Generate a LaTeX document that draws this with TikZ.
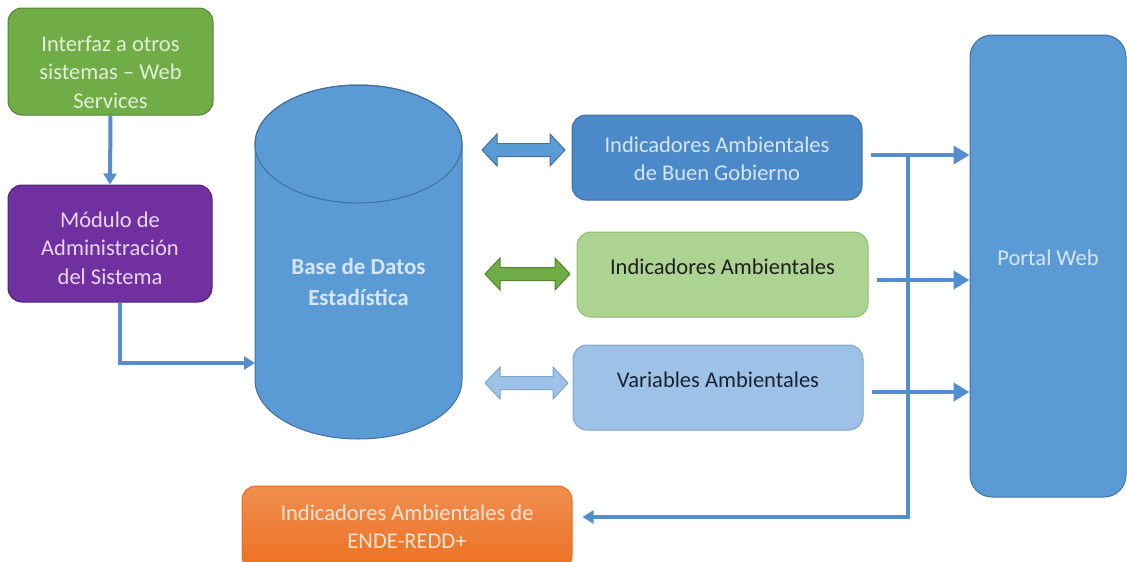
\documentclass[tikz,border=0pt]{standalone}
\usepackage{fontspec}
\setmainfont{Carlito}
\usetikzlibrary{arrows.meta}

\definecolor{bluefill}{RGB}{91,155,213}
\definecolor{blueline}{RGB}{65,113,156}
\definecolor{bgfill}{RGB}{76,137,201}
\definecolor{greenfill}{RGB}{112,173,71}
\definecolor{greenline}{RGB}{84,130,53}
\definecolor{purplefill}{RGB}{112,48,160}
\definecolor{purpleline}{RGB}{80,35,115}
\definecolor{lgfill}{RGB}{172,211,146}
\definecolor{lgline}{RGB}{140,190,110}
\definecolor{lbfill}{RGB}{158,194,231}
\definecolor{lbline}{RGB}{125,165,210}
\definecolor{orangetop}{RGB}{240,142,80}
\definecolor{orangebot}{RGB}{236,112,32}
\definecolor{arrowblue}{RGB}{84,142,206}
\definecolor{paletxt}{RGB}{226,239,217}
\definecolor{pinktxt}{RGB}{232,214,242}
\definecolor{bluetxt}{RGB}{214,230,246}
\definecolor{orangetxt}{RGB}{252,228,214}
\definecolor{darktxt}{RGB}{30,32,30}
\definecolor{navytxt}{RGB}{25,35,52}

\tikzset{
  block/.style={rounded corners=14pt, line width=1pt, inner sep=0pt},
  txt/.style={font=\fontsize{22.5}{28.5}\selectfont, align=center},
  flow/.style={draw=arrowblue, line width=4pt, -{Triangle[length=16pt,width=18pt]}},
  smallhead/.style={-{Triangle[length=11pt,width=13pt]}}
}

\begin{document}
\begin{tikzpicture}[x=1pt,y=1pt]
  \useasboundingbox (0,0) rectangle (1127,-562);
  \clip (0,0) rectangle (1127,-562);

  % draw the boxes on the left
  \node[block, fill=greenfill, draw=greenline, minimum width=205pt, minimum height=107pt] (ifz) at (110.5,-61.5) {};
  \node[txt, text=paletxt] (ifz-t) at (110.5,-72) {Interfaz a otros\\sistemas -- Web\\Services};
  \node[block, fill=purplefill, draw=purpleline, minimum width=204pt, minimum height=117pt] (mod) at (110,-243.5) {};
  \node[txt, text=pinktxt] (mod-t) at (110,-248) {Módulo de\\Administración\\del Sistema};

  % draw the database cylinder
  \filldraw[fill=bluefill, draw=blueline, line width=1pt] (255,-144) -- (255,-380)
    arc[start angle=180, end angle=360, x radius=103.5, y radius=59] -- (462,-144)
    arc[start angle=0, end angle=180, x radius=103.5, y radius=59] -- cycle;
  \draw[blueline, line width=1pt] (358.5,-144) ellipse[x radius=103.5, y radius=59];
  \node[txt, font=\fontsize{23}{31}\selectfont\bfseries, text=bluetxt] (db) at (358.5,-282) {Base de Datos\\Estadística};
  \coordinate (dbin) at (255,-363);

  % draw the middle boxes
  \node[block, fill=bgfill, draw=blueline, minimum width=290pt, minimum height=85pt] (bg) at (717,-157.5) {};
  \node[txt, text=bluetxt] (bg-t) at (717,-159) {Indicadores Ambientales\\de Buen Gobierno};
  \node[block, fill=lgfill, draw=lgline, minimum width=291pt, minimum height=85pt] (ind) at (722.5,-274.5) {};
  \node[txt, text=darktxt] (ind-t) at (722.5,-267) {Indicadores Ambientales};
  \node[block, fill=lbfill, draw=lbline, minimum width=290pt, minimum height=85pt] (var) at (718,-387.5) {};
  \node[txt, text=navytxt] (var-t) at (718,-380) {Variables Ambientales};

  % draw the portal and the bottom box
  \node[block, rounded corners=22pt, fill=bluefill, draw=blueline, minimum width=156pt, minimum height=462pt] (portal) at (1048,-266) {};
  \node[txt, text=bluetxt] (portal-t) at (1048,-258) {Portal Web};
  \node[block, top color=orangetop, bottom color=orangebot, draw=orangebot, minimum width=330pt, minimum height=84pt] (org) at (407,-528) {};
  \node[txt, text=orangetxt] (org-t) at (407,-526.5) {Indicadores Ambientales de\\ENDE-REDD+};

  % draw the double arrows
  \foreach \a/\b/\y/\f/\d in {482/565/-150/bluefill/blueline, 485/570/-274/greenfill/greenline, 485/568/-383/lbfill/lbline}
    \filldraw[fill=\f, draw=\d, line width=1pt] (\a,\y) -- (\a+15,\y+16) -- (\a+15,\y+6.5) -- (\b-15,\y+6.5)
      -- (\b-15,\y+16) -- (\b,\y) -- (\b-15,\y-16) -- (\b-15,\y-6.5) -- (\a+15,\y-6.5) -- (\a+15,\y-16) -- cycle;

  % draw the flows
  \draw[flow, smallhead] (ifz.south) -- (mod.north);
  \draw[flow, smallhead] ([xshift=10pt]mod.south) |- (dbin);
  \foreach \n/\s in {bg/2.5, ind/-5.5, var/-4.5}
    \draw[flow] ([shift={(8pt,\s pt)}]\n.east) -- ([yshift=\s pt]\n.east -| portal.west);
  \coordinate (jt) at (908,-155);
  \coordinate (jb) at (908,-517);
  \draw[flow, smallhead] (jt) -- (jb) -- ([shift={(10pt,11pt)}]org.east);
\end{tikzpicture}
\end{document}
